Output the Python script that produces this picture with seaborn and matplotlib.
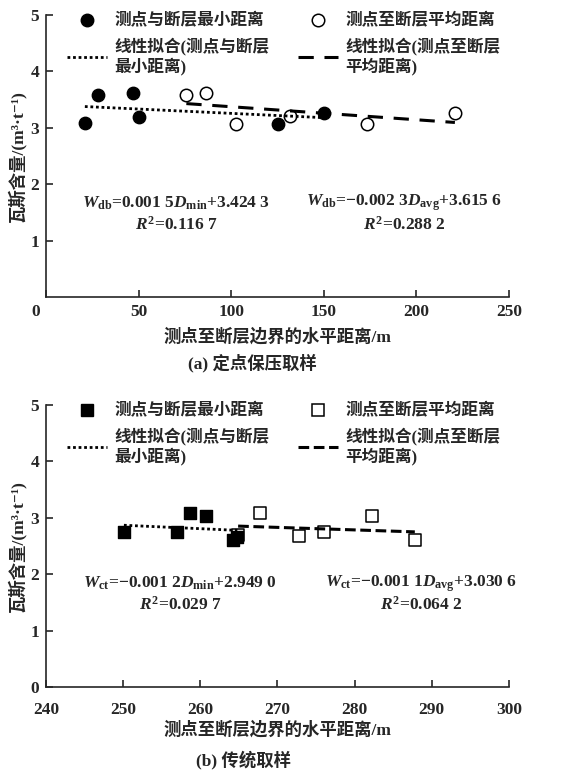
import matplotlib
matplotlib.use('Agg')
import matplotlib.pyplot as plt
import seaborn as sns
import pandas as pd
from matplotlib.lines import Line2D
from matplotlib.transforms import ScaledTranslation

# (a) fixed-point pressure-preserving sampling
a_min_dist = [21, 28, 47, 50, 125.5, 150]
a_min_gas = [3.08, 3.58, 3.62, 3.20, 3.07, 3.26]
a_avg_dist = [75.8, 86.4, 102.8, 131.8, 173.6, 220.8]
a_avg_gas = [3.58, 3.61, 3.07, 3.21, 3.07, 3.26]

# (b) conventional sampling
b_min_dist = [250.1, 257.0, 258.7, 260.8, 264.3, 264.8]
b_min_gas = [2.74, 2.75, 3.08, 3.04, 2.60, 2.66]
b_avg_dist = [264.9, 267.8, 272.8, 276.0, 282.3, 287.8]
b_avg_gas = [2.70, 3.08, 2.68, 2.75, 3.03, 2.60]

leg_labels = ['测点与断层最小距离', '线性拟合(测点与断层\n最小距离)',
              '测点至断层平均距离', '线性拟合(测点至断层\n平均距离)']
xlabel = '测点至断层边界的水平距离/m'
ylabel = '瓦斯含量/(m³·t⁻¹)'
captions = ['(a) 定点保压取样', '(b) 传统取样']
eq_a = [r'$W_{\rm db}$=0.001 5$D_{\rm min}$+3.424 3', r'$R^2$=0.116 7',
        r'$W_{\rm db}$=−0.002 3$D_{\rm avg}$+3.615 6', r'$R^2$=0.288 2']
eq_b = [r'$W_{\rm ct}$=−0.001 2$D_{\rm min}$+2.949 0', r'$R^2$=0.029 7',
        r'$W_{\rm ct}$=−0.001 1$D_{\rm avg}$+3.030 6', r'$R^2$=0.064 2']

sns.set_style('ticks')
plt.rcParams['font.family'] = ['Liberation Serif', 'Noto Sans CJK SC', 'DejaVu Serif']
plt.rcParams['font.weight'] = 'bold'
plt.rcParams['axes.labelweight'] = 'bold'
plt.rcParams['mathtext.fontset'] = 'custom'
plt.rcParams['mathtext.rm'] = 'Liberation Serif:bold'
plt.rcParams['mathtext.it'] = 'Liberation Serif:italic:bold'
plt.rcParams['mathtext.bf'] = 'Liberation Serif:bold'
plt.rcParams['axes.unicode_minus'] = True

fig = plt.figure(figsize=(5.74, 7.70), dpi=100)
ax_a = fig.add_axes([0.0801, 0.6143, 0.8066, 0.3662])
ax_b = fig.add_axes([0.0801, 0.1078, 0.8066, 0.3662])


def draw_panel(ax, min_d, min_g, avg_d, avg_g, marker, dash):
    d1 = pd.DataFrame({'dist': min_d, 'gas': min_g})
    d2 = pd.DataFrame({'dist': avg_d, 'gas': avg_g})
    sns.scatterplot(data=d1, x='dist', y='gas', ax=ax, marker=marker, s=80,
                    color='black', edgecolor='black', linewidth=1.0, zorder=3)
    sns.scatterplot(data=d2, x='dist', y='gas', ax=ax, marker=marker, s=80,
                    facecolor='white', edgecolor='black', linewidth=1.1, zorder=2)
    sns.regplot(data=d1, x='dist', y='gas', ax=ax, scatter=False, ci=None,
                color='black', line_kws=dict(linestyle=(0, (1, 1)), lw=2.0))
    sns.regplot(data=d2, x='dist', y='gas', ax=ax, scatter=False, ci=None,
                color='black', line_kws=dict(linestyle=dash, lw=2.2))
    handles = [Line2D([], [], ls='none', marker=marker, ms=9, mfc='black', mec='black'),
               Line2D([], [], color='black', ls=(0, (1, 1)), lw=2.0),
               Line2D([], [], ls='none', marker=marker, ms=9, mfc='white', mec='black', mew=1.1),
               Line2D([], [], color='black', ls=dash, lw=2.2)]
    ax.legend(handles, leg_labels, ncol=2, loc='upper left',
              bbox_to_anchor=(0.045, 1.005), frameon=False, fontsize=12,
              handlelength=2.4, handletextpad=0.45, columnspacing=1.7,
              labelspacing=0.45, borderpad=0, borderaxespad=0)
    sns.despine(ax=ax)
    ax.tick_params(direction='in', length=5, width=1.2, labelsize=12.5, pad=5)
    for sp in ax.spines.values():
        sp.set_linewidth(1.2)
    ax.set_ylim(0, 5)
    ax.set_xlabel(xlabel, fontsize=12.5, labelpad=6)
    ax.set_ylabel(ylabel, fontsize=12.5)
    ax.yaxis.set_label_coords(-0.043, 0.5)


draw_panel(ax_a, a_min_dist, a_min_gas, a_avg_dist, a_avg_gas, 'o', (0, (5, 3.5)))
ax_a.set_xlim(0, 250)
ax_a.set_xticks([0, 50, 100, 150, 200, 250])
ax_a.set_yticks([1, 2, 3, 4, 5])
lbl0 = ax_a.get_xticklabels()[0]
lbl0.set_transform(lbl0.get_transform() + ScaledTranslation(-0.1, 0, fig.dpi_scale_trans))
ax_a.text(70.5, 1.67, eq_a[0], ha='center', va='center', fontsize=12.5)
ax_a.text(70.5, 1.28, eq_a[1], ha='center', va='center', fontsize=12.5)
ax_a.text(193.5, 1.67, eq_a[2], ha='center', va='center', fontsize=12.5)
ax_a.text(193.5, 1.28, eq_a[3], ha='center', va='center', fontsize=12.5)

draw_panel(ax_b, b_min_dist, b_min_gas, b_avg_dist, b_avg_gas, 's', (0, (3.5, 1.5)))
ax_b.set_xlim(240, 300)
ax_b.set_xticks([240, 250, 260, 270, 280, 290, 300])
ax_b.set_yticks([0, 1, 2, 3, 4, 5])
ax_b.tick_params(axis='x', pad=11)
ax_b.xaxis.labelpad = 2
ax_b.text(257.4, 1.84, eq_b[0], ha='center', va='center', fontsize=12.5)
ax_b.text(257.4, 1.45, eq_b[1], ha='center', va='center', fontsize=12.5)
ax_b.text(288.6, 1.84, eq_b[2], ha='center', va='center', fontsize=12.5, clip_on=False)
ax_b.text(288.6, 1.45, eq_b[3], ha='center', va='center', fontsize=12.5)

fig.text(252 / 574, 1 - 363 / 770, captions[0], ha='center', va='center', fontsize=12.5)
fig.text(244 / 574, 1 - 760 / 770, captions[1], ha='center', va='center', fontsize=12.5)

fig.savefig('out.png', dpi=100)
